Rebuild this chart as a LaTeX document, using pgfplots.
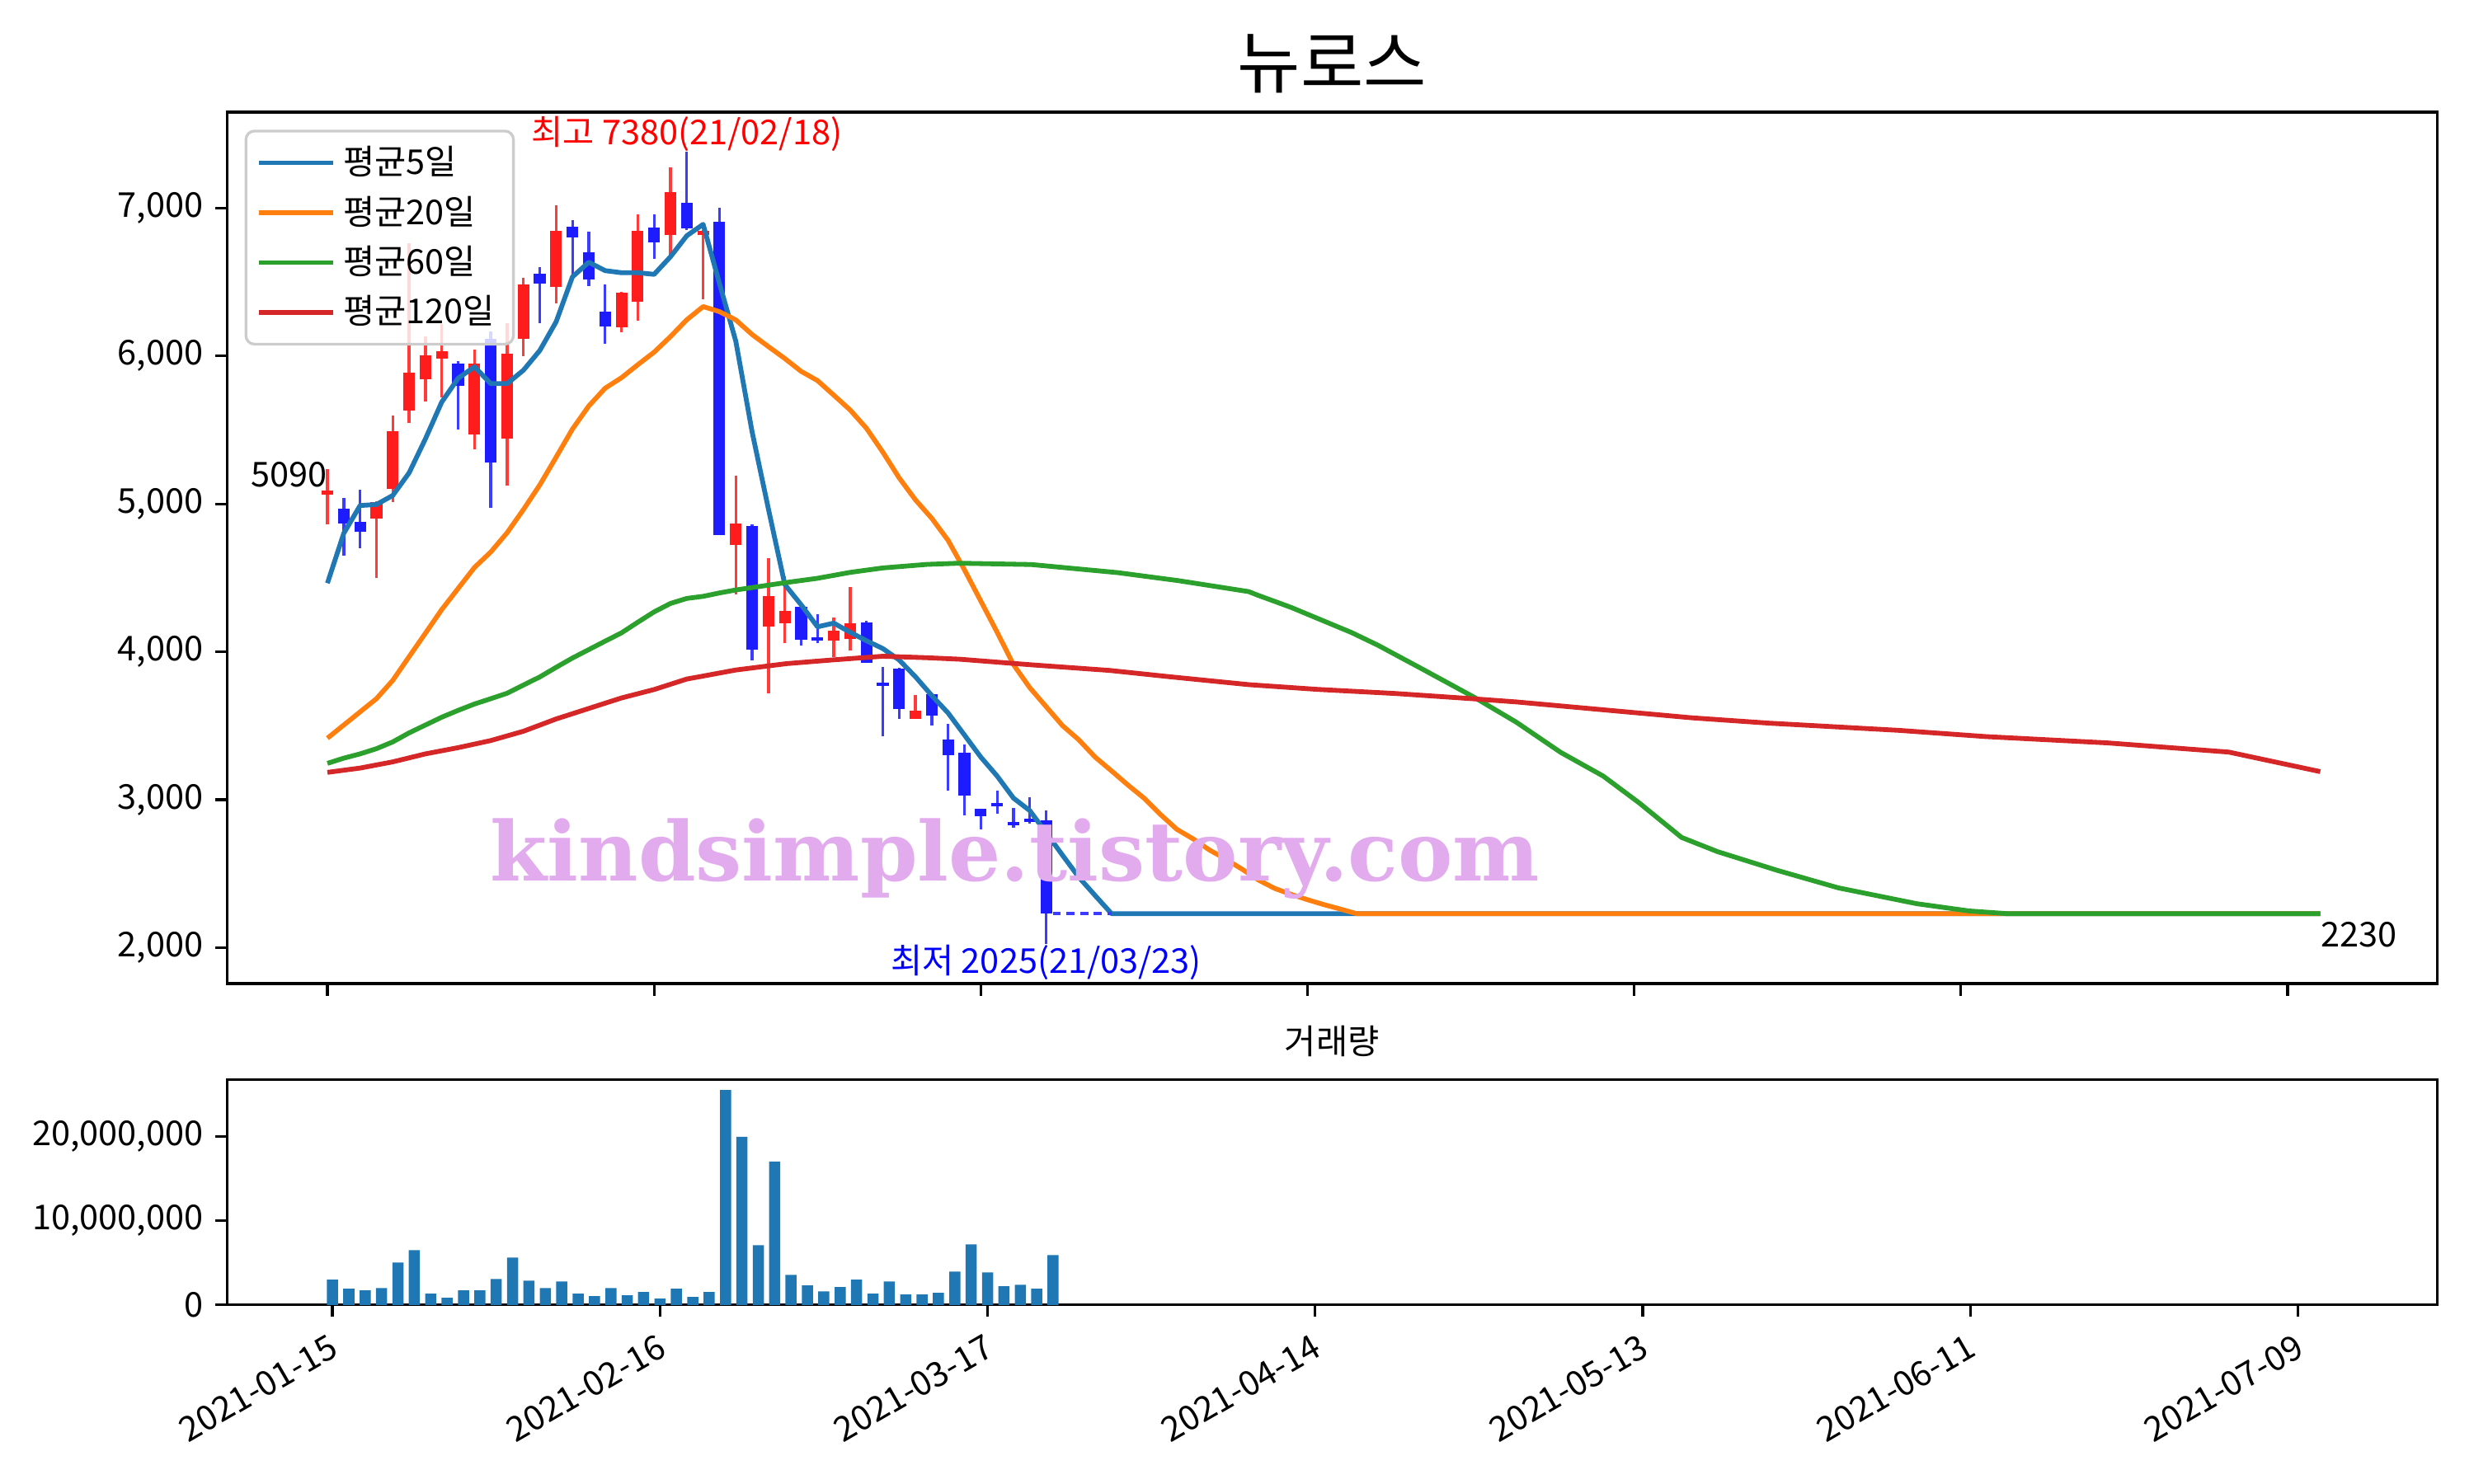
\documentclass[border=0pt]{standalone}
\usepackage{fontspec}
\setmainfont{Noto Sans CJK KR}
\newfontfamily\wmfont{DejaVu Serif}
\usepackage{pgfplots}
\usepackage{pgfplotstable}
\pgfplotsset{compat=1.18}

\definecolor{ma5}{HTML}{1F77B4}
\definecolor{ma20}{HTML}{FF7F0E}
\definecolor{ma60}{HTML}{2CA02C}
\definecolor{ma120}{HTML}{D62728}
\definecolor{cUp}{RGB}{255,28,28}
\definecolor{cUpW}{RGB}{255,60,60}
\definecolor{cDn}{RGB}{28,28,255}
\definecolor{cDnW}{RGB}{60,60,255}
\definecolor{wmc}{RGB}{226,171,238}

% rising candles (red): index open high low close
\pgfplotstableread{
x o h l c
0 5065 5234 4862 5090
3 4900 5020 4499 5014
4 5103 5597 5014 5494
5 5630 6760 5550 5890
6 5840 6130 5690 6005
7 5980 6215 5720 6035
9 5470 6044 5369 5950
11 5441 6222 5123 6017
12 6117 6529 6000 6486
14 6466 7020 6358 6847
18 6194 6435 6160 6429
19 6367 6955 6236 6847
21 6820 7275 6683 7110
23 6820 6850 6381 6847
25 4723 5188 4388 4865
27 4172 4636 3718 4378
28 4194 4512 4057 4276
31 4077 4231 3965 4144
32 4087 4437 4007 4194
36 3548 3710 3548 3603
}\upT

% falling candles (blue)
\pgfplotstableread{
x o h l c
1 4970 5039 4652 4870
2 4880 5096 4702 4810
8 5950 5966 5504 5800
10 6115 6168 4972 5281
13 6557 6600 6222 6492
15 6875 6918 6543 6804
16 6699 6841 6472 6515
17 6302 6481 6083 6202
20 6866 6955 6657 6768
22 7037 7380 6850 6860
24 6907 7003 4790 4790
26 4852 4860 3940 4015
29 4306 4310 4040 4082
30 4100 4256 4057 4077
33 4200 4210 3925 3927
34 3790 3895 3427 3768
35 3889 3890 3544 3612
37 3714 3720 3501 3569
38 3405 3512 3064 3299
39 3320 3373 2894 3028
40 2937 2940 2802 2890
41 2978 3064 2905 2958
42 2850 2947 2809 2830
43 2870 3015 2840 2850
44 2862 2930 2025 2230
}\dnT

\pgfplotstableread{
x v
0 2990000
1 1920000
2 1720000
3 2010000
4 5030000
5 6490000
6 1330000
7 840000
8 1720000
9 1720000
10 3080000
11 5620000
12 2890000
13 2010000
14 2790000
15 1330000
16 1040000
17 2010000
18 1140000
19 1530000
20 750000
21 1920000
22 940000
23 1530000
24 25490000
25 19940000
26 7080000
27 17010000
28 3570000
29 2310000
30 1620000
31 2110000
32 2990000
33 1330000
34 2790000
35 1230000
36 1230000
37 1430000
38 3960000
39 7180000
40 3860000
41 2210000
42 2400000
43 1920000
44 5910000
}\volT

\begin{document}
\begin{tikzpicture}
\useasboundingbox (0,0) rectangle (722.7pt,433.6pt);

\begin{axis}[
  at={(66.4pt,146.2pt)}, anchor=south west,
  scale only axis, width=645.5pt, height=254.6pt,
  xmin=-6.13, xmax=129.15, ymin=1757, ymax=7648,
  clip=false,
  axis line style={line width=0.8pt},
  tick align=outside, tick pos=left,
  major tick length=3.5pt,
  every tick/.style={black, line width=0.8pt},
  xtick={0,20,...,120}, xticklabels={},
  ytick={2000,3000,4000,5000,6000,7000},
  /pgf/number format/.cd, 1000 sep={,}, assume math mode=true,
  /pgfplots/.cd,
  yticklabel style={font=\fontsize{10}{12}\selectfont},
  legend cell align=left,
  legend style={at={(0.0078,0.980)}, anchor=north west,
    draw=black!20, line width=0.8pt, rounded corners=2.5pt,
    fill=white, fill opacity=0.8, text opacity=1,
    font=\fontsize{10}{12}\selectfont,
    inner xsep=3pt, inner ysep=2pt,
    nodes={inner sep=2.4pt}},
  legend image code/.code={\draw[#1] (0pt,0pt) -- (21.7pt,0pt);},
  candle/.style={draw=none, mark=none, forget plot,
    error bars/.cd, y dir=plus, y explicit, error mark=none},
]
% wicks
\addplot[candle, error bar style={line width=0.8pt, draw=cUpW}]
  table[x=x, y=l, y error expr=\thisrow{h}-\thisrow{l}] {\upT};
\addplot[candle, error bar style={line width=0.8pt, draw=cDnW}]
  table[x=x, y=l, y error expr=\thisrow{h}-\thisrow{l}] {\dnT};
% bodies
\addplot[candle, error bar style={line width=3.4pt, draw=cUp}]
  table[x=x, y=o, y error expr=\thisrow{c}-\thisrow{o}] {\upT};
\addplot[candle, error bar style={line width=3.4pt, draw=cDn}]
  table[x=x, y=c, y error expr=\thisrow{o}-\thisrow{c}] {\dnT};

\addplot[ma5, line width=1.4pt, line join=round, mark=none] coordinates {
(0,4464)(1,4801)(2,4989)(3,4996)(4,5057)(5,5210)(6,5440)(7,5689)(8,5849)(9,5927)
(10,5813)(11,5813)(12,5904)(13,6037)(14,6231)(15,6535)(16,6634)(17,6577)(18,6563)(19,6563)
(20,6552)(21,6671)(22,6813)(23,6890)(24,6490)(25,6100)(26,5486)(27,4964)(28,4455)(29,4318)
(30,4169)(31,4194)(32,4132)(33,4075)(34,4022)(35,3945)(36,3831)(37,3704)(38,3586)(39,3437)
(40,3288)(41,3160)(42,3011)(43,2926)(44,2777)(45,2625)(46,2476)(47,2352)(48,2230)(122,2230)};
\addlegendentry{평균5일}
\addplot[ma20, line width=1.4pt, line join=round, mark=none] coordinates {
(0,3416)(1,3505)(2,3594)(3,3683)(4,3807)(5,3967)(6,4126)(7,4286)(8,4428)(9,4570)
(10,4675)(11,4805)(12,4962)(13,5128)(14,5316)(15,5506)(16,5662)(17,5782)(18,5853)(19,5941)
(20,6026)(21,6131)(22,6245)(23,6334)(24,6300)(25,6244)(26,6145)(27,6063)(28,5983)(29,5896)
(30,5834)(31,5735)(32,5635)(33,5511)(34,5350)(35,5176)(36,5027)(37,4902)(38,4753)(39,4554)
(40,4343)(41,4132)(42,3913)(43,3757)(44,3629)(45,3501)(46,3405)(47,3288)(48,3195)(49,3100)
(50,3010)(51,2900)(52,2800)(53,2735)(54,2660)(55,2598)(56,2530)(57,2457)(58,2400)(59,2360)
(60,2324)(61,2291)(62,2261)(63,2230)(122,2230)};
\addlegendentry{평균20일}
\addplot[ma60, line width=1.4pt, line join=round, mark=none] coordinates {
(0,3246)(1,3281)(2,3310)(3,3345)(4,3391)(5,3452)(6,3505)(7,3558)(8,3604)(9,3647)
(10,3683)(11,3720)(12,3775)(13,3830)(14,3895)(15,3958)(16,4015)(17,4072)(18,4128)(19,4200)
(20,4270)(21,4327)(22,4361)(23,4375)(24,4398)(25,4418)(28,4467)(30,4497)(32,4537)(34,4567)
(36.7,4591)(38.7,4599)(43.1,4590)(48.4,4535)(52.1,4481)(56.4,4407)(56.9,4385)(59,4300)
(62.7,4130)(64.3,4045)(67,3885)(70.2,3693)(72.8,3523)(75.5,3320)(78.1,3160)(80.3,2979)
(82.9,2745)(85.1,2649)(88.8,2521)(92.5,2404)(97.3,2297)(100.5,2248)(102.8,2230)(122,2230)};
\addlegendentry{평균60일}
\addplot[ma120, line width=1.4pt, line join=round, mark=none] coordinates {
(0,3185)(2,3214)(4,3256)(6,3310)(8,3352)(10,3400)(12,3463)(14,3546)(16,3617)(18,3688)
(20,3745)(22,3816)(23,3836)(25,3877)(28.1,3920)(30.9,3945)(34,3970)(36.7,3960)(38.7,3950)
(43.1,3912)(47.9,3874)(51.6,3831)(56.4,3778)(60.6,3746)(65.4,3718)(70.2,3682)(72.8,3661)
(78.1,3608)(83.5,3554)(88.2,3518)(96.2,3469)(101.5,3427)(109,3384)(116.4,3322)(122,3190)};
\addlegendentry{평균120일}

\addplot[cDnW, line width=1pt, dash pattern=on 2.4pt off 1.6pt, mark=none, forget plot]
  coordinates {(44.4,2230)(48,2230)};

\node[anchor=south, inner sep=0pt, text=red, font=\fontsize{10}{12}\selectfont]
  at (axis cs:22,7380) {최고 7380(21/02/18)};
\node[anchor=north, inner sep=0pt, text=blue, font=\fontsize{10}{12}\selectfont]
  at (axis cs:44,2025) {최저 2025(21/03/23)};
\node[anchor=base east, inner sep=0pt, yshift=1pt, font=\fontsize{10}{12}\selectfont]
  at (axis cs:0,5090) {5090};
\node[anchor=north west, inner sep=0pt, yshift=-2.2pt, font=\fontsize{10}{12}\selectfont]
  at (axis cs:122,2230) {2230};

\node[text=wmc, font=\wmfont\bfseries\fontsize{24}{28}\selectfont]
  at (axis cs:42.1,2598) {kindsimple.tistory.com};
\end{axis}

\begin{axis}[
  at={(66.4pt,52.3pt)}, anchor=south west,
  scale only axis, width=645.5pt, height=65.9pt,
  xmin=-6.42, xmax=128.5, ymin=0, ymax=26760000,
  axis line style={line width=0.8pt},
  tick align=outside, tick pos=left,
  major tick length=3.5pt,
  every tick/.style={black, line width=0.8pt},
  xtick={0,20,...,120},
  xticklabels={2021-01-15,2021-02-16,2021-03-17,2021-04-14,2021-05-13,2021-06-11,2021-07-09},
  xticklabel style={rotate=30, anchor=north east, font=\fontsize{10}{12}\selectfont},
  ytick={0,10000000,20000000},
  yticklabels={0,{10,000,000},{20,000,000}},
  yticklabel style={font=\fontsize{10}{12}\selectfont},
  scaled y ticks=false,
]
\addplot[ybar, bar width=0.68, fill=ma5, draw=none] table[x=x, y=v] {\volT};
\end{axis}

\node[anchor=base, font=\fontsize{20}{24}\selectfont] at (389.1pt,408pt) {뉴로스};
\node[anchor=base, font=\fontsize{10}{12}\selectfont] at (389.1pt,125.5pt) {거래량};
\end{tikzpicture}
\end{document}
